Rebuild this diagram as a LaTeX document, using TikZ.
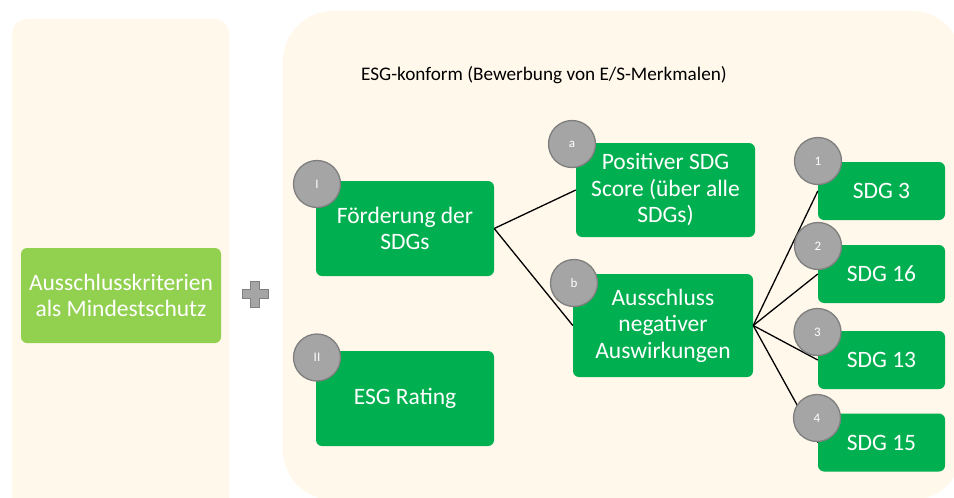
\documentclass[tikz,border=0pt]{standalone}
\usepackage{fontspec}
\setmainfont{Carlito}
\definecolor{panel}{HTML}{FFF8EB}
\definecolor{sdggreen}{HTML}{00B050}
\definecolor{lightgreen}{HTML}{92D050}
\definecolor{badgefill}{HTML}{A5A5A5}
\definecolor{badgeline}{HTML}{7F7F7F}
\tikzset{
  gbox/.style={fill=sdggreen, rounded corners=6pt, text=white, align=center,
    inner sep=0pt, font=\fontsize{23.5}{26.5}\selectfont},
  badge/.style={circle, fill=badgefill, draw=badgeline, line width=1.3pt,
    minimum size=47pt, inner sep=0pt, text=white, font=\fontsize{13}{14}\selectfont},
  link/.style={black, line width=1.3pt},
}
\begin{document}
\begin{tikzpicture}[x=1pt,y=-1pt]
\useasboundingbox (0,0) rectangle (954,498);
\clip (0,0) rectangle (954,498);
% panels
\fill[panel, rounded corners=15pt] (12,19) rectangle (229,512);
\fill[panel, rounded corners=50pt] (283,11) rectangle (962,500);
% plus sign
\filldraw[fill=badgefill, draw=badgeline, line width=1pt]
  (250.5,281) -- (259.5,281) -- (259.5,289.5) -- (268,289.5) -- (268,298.5)
  -- (259.5,298.5) -- (259.5,307) -- (250.5,307) -- (250.5,298.5) -- (242,298.5)
  -- (242,289.5) -- (250.5,289.5) -- cycle;
% title
\node (title) at (544,75) {\fontsize{19.2}{23}\selectfont ESG-konform (Bewerbung von E/S-Merkmalen)};
% boxes
\node[gbox, fill=lightgreen, minimum width=200pt, minimum height=95pt] (aus) at (121,295.5)
  {Ausschlusskriterien\\als Mindestschutz};
\node[gbox, minimum width=178pt, minimum height=95pt] (foe) at (405,228.5) {Förderung der\\SDGs};
\node[gbox, minimum width=178pt, minimum height=95pt] (esg) at (405,398.5) {ESG Rating};
\node[gbox, minimum width=179pt, minimum height=94pt] (pos) at (665.5,190) {Positiver SDG\\Score (über alle\\SDGs)};
\node[gbox, minimum width=180pt, minimum height=103pt] (neg) at (663,325.5) {Ausschluss\\negativer\\Auswirkungen};
\node[gbox, minimum width=127pt, minimum height=58pt] (s3) at (881.5,191) {SDG 3};
\node[gbox, minimum width=127pt, minimum height=58pt] (s16) at (881.5,274) {SDG 16};
\node[gbox, minimum width=127pt, minimum height=58pt] (s13) at (881.5,360) {SDG 13};
\node[gbox, minimum width=127pt, minimum height=58pt] (s15) at (881.5,442.5) {SDG 15};
% connectors
\draw[link] (foe.east) -- (pos.west);
\draw[link] (foe.east) -- (neg.west);
\draw[link] (neg.east) -- (s3.west);
\draw[link] (neg.east) -- (s16.west);
\draw[link] (neg.east) -- (s13.west);
\draw[link] (neg.east) -- (s15.west);
% badges
\node[badge] (bI) at (317,184) {I};
\node[badge] (bII) at (317,357.5) {II};
\node[badge] (ba) at (572,144) {a};
\node[badge] (bb) at (574,283) {b};
\node[badge] (b1) at (818,161) {1};
\node[badge] (b2) at (818,246) {2};
\node[badge] (b3) at (817.5,332) {3};
\node[badge] (b4) at (817,418) {4};
\end{tikzpicture}
\end{document}
